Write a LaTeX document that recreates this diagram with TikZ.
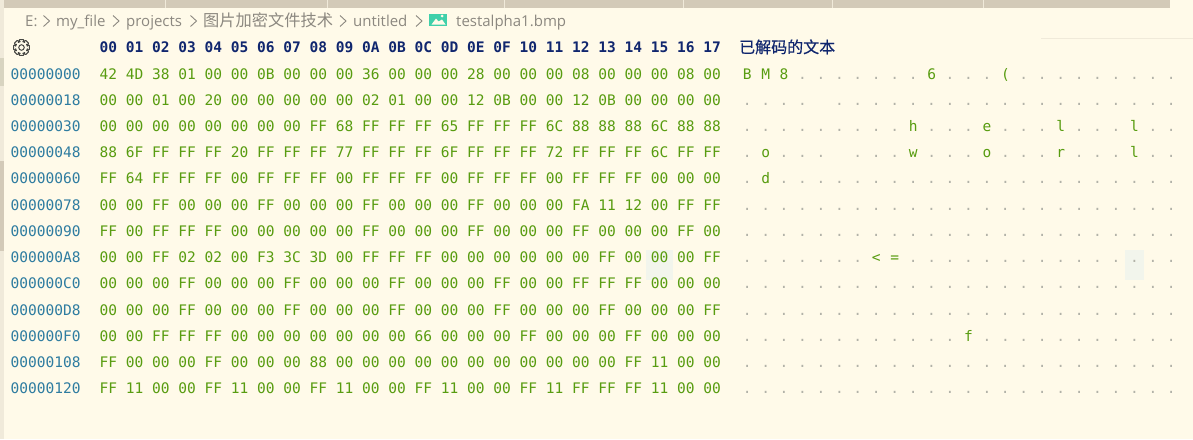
\documentclass[tikz,border=0pt]{standalone}
\usepackage{fontspec}
\setmainfont{Open Sans}
\setmonofont{DejaVu Sans Mono}
\newfontfamily\cjkfont{Noto Sans CJK SC}
\newfontfamily\cjkhead[FakeBold=0.5]{Noto Sans CJK SC}
\usepackage{xcolor}
\definecolor{PageCream}{RGB}{255,250,233}
\definecolor{TabTan}{RGB}{211,202,184}
\definecolor{MarkTan}{RGB}{216,212,192}
\definecolor{StripTan}{RGB}{240,234,218}
\definecolor{CrumbGrey}{RGB}{140,136,128}
\definecolor{HexGreen}{RGB}{88,156,16}
\definecolor{OffsetBlue}{RGB}{46,124,160}
\definecolor{HeadNavy}{RGB}{16,38,110}
\definecolor{DotGrey}{RGB}{178,178,168}
\definecolor{CellShade}{RGB}{242,245,236}
\definecolor{IconTeal}{RGB}{64,208,170}
\definecolor{GearGrey}{RGB}{70,70,66}
\newcommand{\gl}[1]{\makebox[18.44pt][c]{\textcolor{HexGreen}{#1}}}
\newcommand{\nogl}{\makebox[18.44pt]{}}
\newcommand{\dts}[1]{\foreach \dotn in {1,...,#1}{\makebox[18.44pt][c]{.}}}
\begin{document}
\begin{tikzpicture}[x=1pt,y=-1pt,
  crumb/.style={anchor=base west,inner sep=0pt,text=CrumbGrey,font=\fontsize{15}{15}\selectfont},
  chev/.style={draw=CrumbGrey,line width=0.9pt},
  offs/.style={anchor=base west,inner sep=0pt,text=OffsetBlue,font=\ttfamily\fontsize{14.53}{15}\selectfont},
  hexrow/.style={anchor=base west,inner sep=0pt,text=HexGreen,font=\ttfamily\fontsize{14.53}{15}\selectfont},
  txtrow/.style={anchor=base west,inner sep=0pt,text=DotGrey,font=\ttfamily\fontsize{14.53}{15}\selectfont},
]
\useasboundingbox (0,0) rectangle (1193,439);
% background and window edges
\fill[PageCream] (0,0) rectangle (1193,439);
\fill[StripTan] (0,0) rectangle (4,439);
\fill[MarkTan] (0,58) rectangle (4,86);
\fill[TabTan] (0,161) rectangle (4,251);
\fill[TabTan] (4,0) rectangle (1170,7.5);
\foreach \tabx in {164.5,326.5,504,682.5,832,983} {
  \fill[StripTan] (\tabx,0) rectangle (\tabx+0.8,7.5);
}
\draw[StripTan,line width=0.5pt] (1041,38.5) -- (1193,38.5);
% breadcrumb
\node[crumb] (drive) at (25,27) {E:};
\node[crumb] (myfile) at (56,27) {my\_file};
\node[crumb] (proj) at (126,27) {projects};
\node[crumb,font=\cjkfont\fontsize{16.25}{17}\selectfont] (cjkdir) at (203,27) {图片加密文件技术};
\node[crumb] (untitled) at (353,27) {untitled};
\node[crumb] (bmpname) at (456,27) {testalpha1.bmp};
\foreach \chx in {43.5,113,190.5,340,416} {
  \draw[chev] (\chx,15.5) -- (\chx+6,21) -- (\chx,26.5);
}
\fill[IconTeal] (429,13.5) rectangle (447.3,26);
\fill[PageCream] (431.5,24.5) -- (436,18.5) -- (438.5,21.5) -- (442,19.5) -- (445.5,24.5) -- cycle;
\fill[PageCream] (442,16) circle (1.5);
% settings gear
\node[draw=GearGrey,circle,line width=1pt,minimum size=5.5pt,inner sep=0pt] (gearhub) at (21.5,47.5) {};
\begin{scope}[shift={(21.5,47.5)}]
  \draw[GearGrey,line width=1pt,line join=round] (-32:6)
    \foreach \ang in {0,45,...,315} {
      -- (\ang-32:6) -- (\ang-13:8.2) -- (\ang+13:8.2) -- (\ang+32:6)
    } -- cycle;
\end{scope}
% column head
\node[hexrow,text=HeadNavy,font=\ttfamily\bfseries\fontsize{14.53}{15}\selectfont] (headrow) at (99.5,52)
  {00 01 02 03 04 05 06 07 08 09 0A 0B 0C 0D 0E 0F 10 11 12 13 14 15 16 17};
\node[anchor=base west,inner sep=0pt,text=HeadNavy,font=\cjkhead\fontsize{16}{17}\selectfont] (headtxt) at (739,53) {已解码的文本};
% shaded cell
\fill[CellShade] (646,250) rectangle (673,279.5);
\fill[CellShade] (1125,250) rectangle (1144,279.5);
% offsets
\node[offs] (off0) at (10.5,79) {00000000};
\node[offs] (off1) at (10.5,105) {00000018};
\node[offs] (off2) at (10.5,131) {00000030};
\node[offs] (off3) at (10.5,157) {00000048};
\node[offs] (off4) at (10.5,183) {00000060};
\node[offs] (off5) at (10.5,210) {00000078};
\node[offs] (off6) at (10.5,236) {00000090};
\node[offs] (off7) at (10.5,262) {000000A8};
\node[offs] (off8) at (10.5,288) {000000C0};
\node[offs] (off9) at (10.5,315) {000000D8};
\node[offs] (off10) at (10.5,341) {000000F0};
\node[offs] (off11) at (10.5,367) {00000108};
\node[offs] (off12) at (10.5,393) {00000120};
% hex rows
\node[hexrow] (hex0) at (99.5,79) {42 4D 38 01 00 00 0B 00 00 00 36 00 00 00 28 00 00 00 08 00 00 00 08 00};
\node[hexrow] (hex1) at (99.5,105) {00 00 01 00 20 00 00 00 00 00 02 01 00 00 12 0B 00 00 12 0B 00 00 00 00};
\node[hexrow] (hex2) at (99.5,131) {00 00 00 00 00 00 00 00 FF 68 FF FF FF 65 FF FF FF 6C 88 88 88 6C 88 88};
\node[hexrow] (hex3) at (99.5,157) {88 6F FF FF FF 20 FF FF FF 77 FF FF FF 6F FF FF FF 72 FF FF FF 6C FF FF};
\node[hexrow] (hex4) at (99.5,183) {FF 64 FF FF FF 00 FF FF FF 00 FF FF FF 00 FF FF FF 00 FF FF FF 00 00 00};
\node[hexrow] (hex5) at (99.5,210) {00 00 FF 00 00 00 FF 00 00 00 FF 00 00 00 FF 00 00 00 FA 11 12 00 FF FF};
\node[hexrow] (hex6) at (99.5,236) {FF 00 FF FF FF 00 00 00 00 00 FF 00 00 00 FF 00 00 00 FF 00 00 00 FF 00};
\node[hexrow] (hex7) at (99.5,262) {00 00 FF 02 02 00 F3 3C 3D 00 FF FF FF 00 00 00 00 00 00 FF 00 00 00 FF};
\node[hexrow] (hex8) at (99.5,288) {00 00 00 FF 00 00 00 FF 00 00 00 FF 00 00 00 FF 00 00 FF FF FF 00 00 00};
\node[hexrow] (hex9) at (99.5,315) {00 00 00 FF 00 00 00 FF 00 00 00 FF 00 00 00 FF 00 00 00 FF 00 00 00 FF};
\node[hexrow] (hex10) at (99.5,341) {00 00 FF FF FF 00 00 00 00 00 00 00 66 00 00 00 FF 00 00 00 FF 00 00 00};
\node[hexrow] (hex11) at (99.5,367) {FF 00 00 00 FF 00 00 00 88 00 00 00 00 00 00 00 00 00 00 00 FF 11 00 00};
\node[hexrow] (hex12) at (99.5,393) {FF 11 00 00 FF 11 00 00 FF 11 00 00 FF 11 00 00 FF 11 FF FF FF 11 00 00};
% decoded rows
\node[txtrow] (txt0) at (737.8,79) {\gl{B}\gl{M}\gl{8}\dts{7}\gl{6}\dts{3}\gl{(}\dts{9}};
\node[txtrow] (txt1) at (737.8,105) {\dts{4}\nogl\dts{19}};
\node[txtrow] (txt2) at (737.8,131) {\dts{9}\gl{h}\dts{3}\gl{e}\dts{3}\gl{l}\dts{3}\gl{l}\dts{2}};
\node[txtrow] (txt3) at (737.8,157) {\dts{1}\gl{o}\dts{3}\nogl\dts{3}\gl{w}\dts{3}\gl{o}\dts{3}\gl{r}\dts{3}\gl{l}\dts{2}};
\node[txtrow] (txt4) at (737.8,183) {\dts{1}\gl{d}\dts{22}};
\node[txtrow] (txt5) at (737.8,210) {\dts{24}};
\node[txtrow] (txt6) at (737.8,236) {\dts{24}};
\node[txtrow] (txt7) at (737.8,262) {\dts{7}\gl{<}\gl{=}\dts{15}};
\node[txtrow] (txt8) at (737.8,288) {\dts{24}};
\node[txtrow] (txt9) at (737.8,315) {\dts{24}};
\node[txtrow] (txt10) at (737.8,341) {\dts{12}\gl{f}\dts{11}};
\node[txtrow] (txt11) at (737.8,367) {\dts{24}};
\node[txtrow] (txt12) at (737.8,393) {\dts{24}};
\end{tikzpicture}
\end{document}
